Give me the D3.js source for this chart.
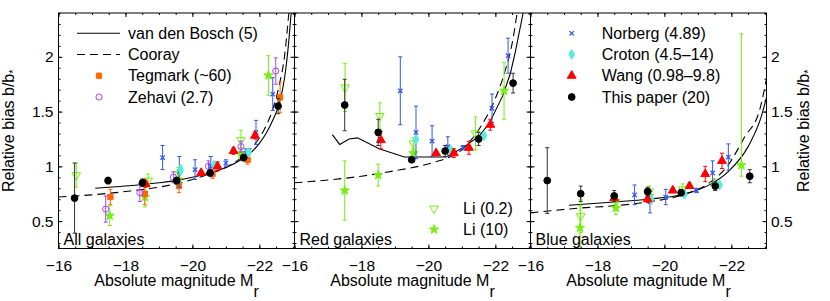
<!DOCTYPE html>
<html>
<head>
<meta charset="utf-8">
<script src="https://cdnjs.cloudflare.com/ajax/libs/d3/7.8.5/d3.min.js"></script>
<style>
  body { margin: 0; background: #fff; }
  svg { font-family: "Liberation Sans", Arial, sans-serif; }
</style>
</head>
<body>
<div id="chart"></div>
<script>
// panels and ticks
var panelNames = ["All galaxies", "Red galaxies", "Blue galaxies"];
var xTicks = [-16, -18, -20, -22];
var yTicks = [0.5, 1, 1.5, 2];

// model curves, one list per panel: [M_r, b/b*]
var vandenBosch = [
  [[-17.1, 0.80], [-18, 0.82], [-19, 0.85], [-19.5, 0.87], [-20, 0.90], [-20.5, 0.94], [-21, 0.99], [-21.5, 1.07], [-21.8, 1.14], [-22, 1.21], [-22.2, 1.30], [-22.4, 1.42], [-22.6, 1.58], [-22.75, 1.80], [-22.85, 2.05], [-22.95, 2.4]],
  [[-17.13, 1.29], [-17.35, 1.20], [-17.63, 1.25], [-17.88, 1.26], [-18.53, 1.16], [-19.28, 1.085], [-20.53, 1.085], [-21.03, 1.17], [-21.53, 1.28], [-21.83, 1.40], [-22.23, 1.65], [-22.45, 1.85], [-22.6, 2.05], [-22.83, 2.4]],
  [[-17.15, 0.645], [-18.5, 0.675], [-19.5, 0.70], [-20.5, 0.74], [-21.4, 0.84], [-21.9, 0.95], [-22.5, 1.18], [-22.9, 1.46], [-23.05, 1.63]]
];
var cooray = [
  [[-16, 0.72], [-17, 0.74], [-18, 0.77], [-19, 0.81], [-19.5, 0.84], [-20, 0.88], [-20.5, 0.93], [-21, 0.99], [-21.5, 1.09], [-21.8, 1.18], [-22, 1.26], [-22.2, 1.37], [-22.4, 1.52], [-22.6, 1.75], [-22.75, 2.0], [-22.88, 2.4]],
  [[-16, 0.85], [-17, 0.875], [-18, 0.91], [-19, 0.96], [-19.7, 1.0], [-20.2, 1.04], [-20.6, 1.08], [-21.0, 1.15], [-21.3, 1.25], [-21.6, 1.38], [-22.0, 1.62], [-22.3, 1.88], [-22.5, 2.12], [-22.65, 2.4]],
  [[-16, 0.575], [-17.5, 0.62], [-18.5, 0.64], [-19.5, 0.675], [-20.5, 0.735], [-21.3, 0.84], [-21.9, 1.01], [-22.4, 1.27], [-22.85, 1.52], [-23.05, 1.8]]
];

// measurements, one list per panel: [M_r, b/b*, err] or [M_r, b/b*, errLow, errHigh]
var liFaint = [
  [[-16.53, 0.92, 0.11], [-18.68, 0.87, 0.06], [-19.58, 0.93, 0.06], [-21.45, 1.24, 0.09]],
  [[-17.51, 1.72, 0.22], [-18.55, 1.46, 0.12], [-19.55, 1.21, 0.05], [-21.41, 1.30, 0.15]],
  [[-17.5, 0.545, 0.15], [-18.55, 0.675, 0.07], [-19.55, 0.77, 0.05], [-20.55, 0.79, 0.05], [-21.5, 0.83, 0.05]]
];
var liBright = [
  [[-17.53, 0.55, 0.09], [-18.58, 0.72, 0.09], [-19.58, 0.88, 0.06], [-21.45, 1.12, 0.05], [-22.27, 1.83, 0.18]],
  [[-17.5, 0.78, 0.27], [-18.5, 0.92, 0.1], [-19.55, 1.12, 0.03], [-22.26, 1.69, 0.26]],
  [[-17.48, 0.44, 0.2], [-18.55, 0.62, 0.06], [-19.55, 0.73, 0.04], [-22.3, 1.01, 0.1, 1.2]]
];
var tegmark = [
  [[-17.55, 0.72, 0.07], [-18.58, 0.75, 0.1], [-19.6, 0.82, 0.06], [-20.6, 0.93, 0.04], [-21.65, 1.06, 0.04], [-22.62, 1.63, 0.14]],
  [],
  []
];
var zehavi = [
  [[-17.41, 0.61, 0.12], [-18.43, 0.76, 0.08], [-19.43, 0.90, 0.05], [-20.48, 1.0, 0.05], [-21.45, 1.18, 0.05], [-22.49, 1.87, 0.12]],
  [],
  []
];
var norberg = [
  [[-19.11, 1.08, 0.11], [-19.61, 0.95, 0.14], [-20.08, 0.97, 0.09], [-20.55, 1.0, 0.09], [-21.0, 1.03, 0.03], [-21.6, 1.12, 0.04], [-21.9, 1.31, 0.11], [-22.4, 1.66, 0.15]],
  [[-19.16, 1.69, 0.31], [-19.63, 1.31, 0.24], [-20.11, 1.23, 0.14], [-20.58, 1.18, 0.09], [-21.03, 1.17, 0.02], [-21.9, 1.53, 0.13], [-22.38, 2.01, 0.16]],
  [[-19.11, 0.74, 0.09], [-19.57, 0.675, 0.1], [-20.04, 0.72, 0.07], [-20.96, 0.78, 0.02], [-21.44, 0.94, 0.11], [-21.91, 1.085, 0.12]]
];
var croton = [
  [[-19.65, 0.97, 0.04], [-20.65, 1.01, 0.03], [-21.68, 1.13, 0.03]],
  [[-19.63, 1.245, 0.02], [-20.66, 1.15, 0.02], [-21.66, 1.28, 0.02]],
  [[-19.6, 0.70, 0.02], [-20.6, 0.745, 0.02], [-21.65, 0.83, 0.02]]
];
var wang = [
  [[-18.6, 0.84, 0.03], [-20.26, 0.94, 0.02], [-20.75, 1.0, 0.04], [-21.23, 1.14, 0.03], [-21.87, 1.28, 0.03]],
  [[-18.58, 1.24, 0.08], [-20.23, 1.12, 0.02], [-20.76, 1.12, 0.04], [-21.21, 1.17, 0.06], [-21.85, 1.38, 0.05]],
  [[-18.5, 0.71, 0.03], [-19.5, 0.70, 0.03], [-20.25, 0.78, 0.02], [-20.75, 0.82, 0.02], [-21.22, 0.93, 0.07], [-21.72, 1.05, 0.07]]
];
var thisPaper = [
  [[-16.48, 0.71, 0.32], [-17.48, 0.87, 0.03], [-18.51, 0.85, 0.035], [-19.53, 0.87, 0.03], [-20.53, 0.94, 0.025], [-21.53, 1.08, 0.03], [-22.56, 1.55, 0.07]],
  [[-17.5, 1.56, 0.235], [-18.5, 1.31, 0.12], [-19.5, 1.06, 0.02], [-20.5, 1.14, 0.05], [-21.5, 1.25, 0.06], [-22.53, 1.76, 0.09]],
  [[-16.5, 0.87, 0.3], [-17.5, 0.75, 0.07], [-18.5, 0.73, 0.05], [-19.5, 0.77, 0.04], [-20.5, 0.76, 0.03], [-21.52, 0.82, 0.04], [-22.55, 0.91, 0.06]]
];

// layout
var margin = { top: 13, left: 58.5 },
    pw = 236, ph = 235.5;

var green = "#77ee11", blue = "#3355ee", cyan = "#55eedd",
    red = "#ff0000", orange = "#ff6600", purple = "#b040ff";

var triDown = d3.symbolTriangle, times = d3.symbolTimes || d3.symbolX;

// draw order: first under, last on top
var series = [
  { data: liFaint, color: green, type: triDown, size: 32, fill: "none", flip: true, label: "Li (0.2)" },
  { data: liBright, color: green, type: d3.symbolStar, size: 26, fill: green, label: "Li (10)" },
  { data: tegmark, color: orange, type: d3.symbolSquare, size: 28, fill: orange, label: "Tegmark (~60)" },
  { data: zehavi, color: purple, type: d3.symbolCircle, size: 30, fill: "none", label: "Zehavi (2.7)" },
  { data: norberg, color: blue, type: times, size: 14, fill: "none", label: "Norberg (4.89)" },
  { data: croton, color: cyan, type: d3.symbolDiamond, size: 28, fill: cyan, label: "Croton (4.5\u201314)" },
  { data: wang, color: red, type: d3.symbolTriangle, size: 34, fill: red, label: "Wang (0.98\u20139.8)" },
  { data: thisPaper, color: "#000", bar: "#333", type: d3.symbolCircle, size: 36, fill: "#000", label: "This paper (20)" }
];

var svg = d3.select("#chart").append("svg")
    .attr("width", 830)
    .attr("height", 301);

var x = d3.scaleLinear().domain([-16, -23.05]).range([0, pw]);
var y = d3.scaleLinear().domain([0.25, 2.4]).range([ph, 0]);

var xMinor = d3.range(-16, -23.01, -0.5);
var yMinor = d3.range(0.3, 2.41, 0.1);

function line(curve) {
  return d3.line()
      .x(function (d) { return x(d[0]); })
      .y(function (d) { return y(d[1]); })
      .curve(curve);
}

svg.append("defs").append("clipPath")
    .attr("id", "clip")
    .append("rect")
    .attr("width", pw)
    .attr("height", ph);

function drawMarker(g, s, cx, cy) {
  g.append("path")
      .attr("d", d3.symbol().type(s.type).size(s.size)())
      .attr("transform", "translate(" + cx + "," + cy + ")" + (s.flip ? " rotate(180)" : ""))
      .style("fill", s.fill)
      .style("stroke", s.color)
      .style("stroke-width", s.type === times ? 1.3 : 1);
}

panelNames.forEach(function (name, p) {
  var g = svg.append("g")
      .attr("transform", "translate(" + (margin.left + p * pw) + "," + margin.top + ")");

  var plot = g.append("g").attr("clip-path", "url(#clip)");

  // curves (the red-galaxy model has kinks, so no smoothing there)
  plot.append("path")
      .datum(vandenBosch[p])
      .attr("d", line(p === 1 ? d3.curveLinear : d3.curveMonotoneX))
      .style("fill", "none")
      .style("stroke", "#000")
      .style("stroke-width", 1.1);
  plot.append("path")
      .datum(cooray[p])
      .attr("d", line(d3.curveMonotoneX))
      .style("fill", "none")
      .style("stroke", "#000")
      .style("stroke-width", 1.1)
      .style("stroke-dasharray", "8,5");

  // points with error bars
  series.forEach(function (s) {
    s.data[p].forEach(function (d) {
      var lo = d[2], hi = d.length > 3 ? d[3] : d[2];
      var cx = x(d[0]), cy = y(d[1]), y0 = y(d[1] - lo), y1 = y(d[1] + hi);
      var barColor = s.bar || s.color;
      plot.append("line")
          .attr("x1", cx).attr("x2", cx).attr("y1", y0).attr("y2", y1)
          .style("stroke", barColor).style("stroke-width", 1);
      [y0, y1].forEach(function (yy) {
        plot.append("line")
            .attr("x1", cx - 2).attr("x2", cx + 2).attr("y1", yy).attr("y2", yy)
            .style("stroke", barColor).style("stroke-width", 1);
      });
      drawMarker(plot, s, cx, cy);
    });
  });

  // inward ticks on all four sides
  function ticks(axis, transform, values, size, labels) {
    var a = g.append("g")
        .attr("transform", transform)
        .call(axis.tickValues(values).tickSizeInner(-size).tickSizeOuter(0)
          .tickFormat(labels ? d3.format("~g") : ""));
    a.select(".domain").remove();
    a.selectAll("line").style("stroke", "#000");
    return a;
  }
  ticks(d3.axisBottom(x), "translate(0," + ph + ")", xMinor, 2, false);
  ticks(d3.axisTop(x), "", xMinor, 2, false);
  ticks(d3.axisLeft(y), "", yMinor, 2, false);
  ticks(d3.axisRight(y), "translate(" + pw + ",0)", yMinor, 2, false);

  var bx = ticks(d3.axisBottom(x).tickPadding(11.2), "translate(0," + ph + ")", xTicks, 4, true);
  ticks(d3.axisTop(x), "", xTicks, 4, false);
  var ly = ticks(d3.axisLeft(y).tickPadding(5), "", yTicks, 4, p === 0);
  var ry = ticks(d3.axisRight(y).tickPadding(4.5), "translate(" + pw + ",0)", yTicks, 4, p === 2);
  [bx, ly, ry].forEach(function (a) {
    a.selectAll("text").style("font-size", "15.5px").style("fill", "#000").style("font-family", null);
  });

  // frame
  g.append("rect")
      .attr("width", pw)
      .attr("height", ph)
      .style("fill", "none")
      .style("stroke", "#000")
      .style("stroke-width", 1);

  // panel name
  g.append("text")
      .attr("x", 5)
      .attr("y", ph - 3.5)
      .style("font-size", "16px")
      .text(name);

  // x label
  var xl = g.append("text")
      .attr("x", pw / 2)
      .attr("y", 286 - margin.top)
      .style("text-anchor", "middle")
      .style("font-size", "16px");
  xl.append("tspan").text("Absolute magnitude M");
  xl.append("tspan").attr("dy", 10.5).text("r");
});

// y labels, left and right
[13.5, 809].forEach(function (lx) {
  var t = svg.append("text")
      .attr("transform", "translate(" + lx + "," + (margin.top + ph / 2) + ") rotate(-90)")
      .style("text-anchor", "middle")
      .style("font-size", "16px");
  t.append("tspan").text("Relative bias b/b");
  t.append("tspan").attr("dy", 3).style("font-size", "11px").text("*");
});

// legends
function legendText(gx, gy, label) {
  svg.append("text")
      .attr("x", gx)
      .attr("y", gy)
      .attr("dy", "0.35em")
      .style("font-size", "16px")
      .text(label);
}

var rows = [33.3, 54.5, 75.7, 97];

// panel 1: curves and two data sets
svg.append("line").attr("x1", 77).attr("x2", 120).attr("y1", rows[0]).attr("y2", rows[0])
    .style("stroke", "#000").style("stroke-width", 1.1);
legendText(128, rows[0], "van den Bosch (5)");
svg.append("line").attr("x1", 77).attr("x2", 120).attr("y1", rows[1]).attr("y2", rows[1])
    .style("stroke", "#000").style("stroke-width", 1.1).style("stroke-dasharray", "8,5");
legendText(128, rows[1], "Cooray");
[series[2], series[3]].forEach(function (s, i) {
  drawMarker(svg, s, 99, rows[i + 2]);
  legendText(128, rows[i + 2], s.label);
});

// panel 2: Li
[series[0], series[1]].forEach(function (s, i) {
  var ry = [208.5, 229.5][i];
  drawMarker(svg, s, 434, ry);
  legendText(463, ry, s.label);
});

// panel 3
[series[4], series[5], series[6], series[7]].forEach(function (s, i) {
  drawMarker(svg, s, 571.7, rows[i]);
  legendText(601.7, rows[i], s.label);
});
</script>
</body>
</html>
